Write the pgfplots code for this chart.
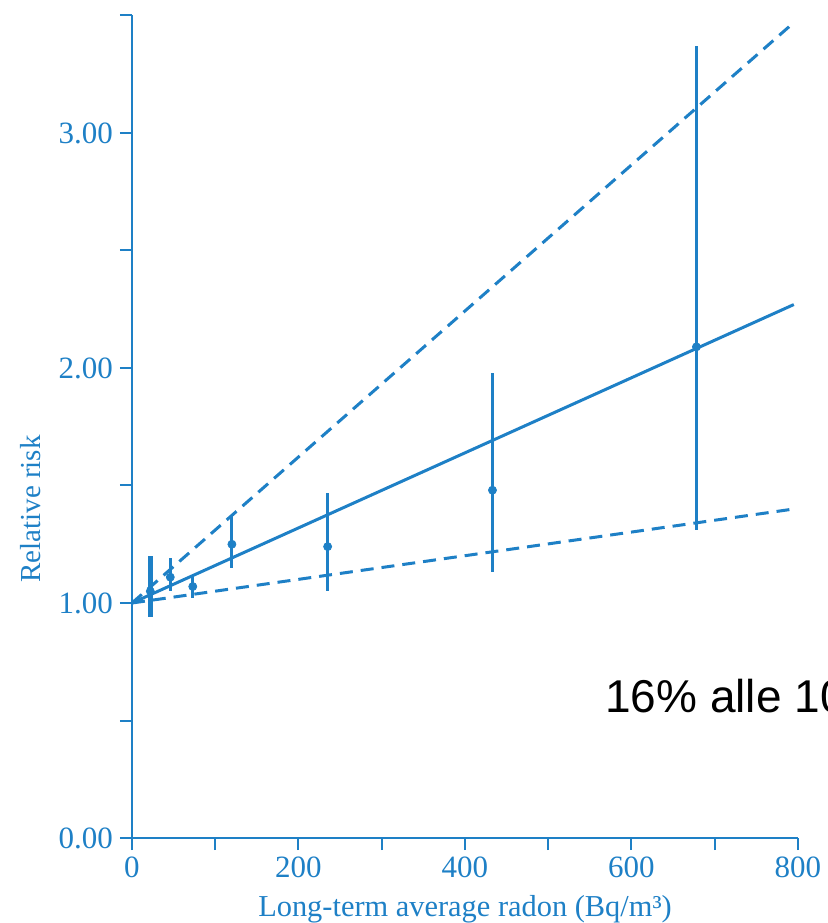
\documentclass[border=0pt]{standalone}
\usepackage{pgfplots}
\pgfplotsset{compat=1.18}
\usepackage{fontspec}
\setmainfont{Liberation Serif}
\newfontfamily\arialfont{Liberation Sans}
\definecolor{rb}{RGB}{30,128,198}
\pgfplotstableread{
x y ep em
46 1.11 0.08 0.06
73 1.07 0.05 0.05
120 1.25 0.12 0.10
235 1.24 0.23 0.19
433 1.48 0.50 0.35
678 2.09 1.28 0.78
}\riskdata
\pgfplotstableread{
x y ep em
22 1.05 0.15 0.11
}\firstdata
\begin{document}
\begin{tikzpicture}
\useasboundingbox (-66pt,-42.5pt) rectangle (348pt,419pt);
\begin{axis}[
  x=0.41625pt, y=117.5pt,
  xmin=0, xmax=800, ymin=0, ymax=3.5,
  axis x line=bottom, axis y line=left,
  axis line style={-, rb, line width=0.9pt},
  tick align=outside,
  major tick length=6pt, minor tick length=6pt,
  every tick/.style={rb, line width=1pt},
  xtick={0,200,...,800}, minor xtick={100,300,500,700},
  ytick={0,1,2,3}, minor ytick={0.5,1.5,2.5,3.5},
  yticklabel style={/pgf/number format/.cd, fixed, fixed zerofill, precision=2},
  /pgf/number format/assume math mode=true,
  ticklabel style={font=\fontsize{15.5}{18}\selectfont, text=rb},
  xlabel={Long-term average radon (Bq/m³)},
  ylabel={Relative risk},
  xlabel style={font=\fontsize{15.2}{18}\selectfont, text=rb, yshift=-2pt},
  ylabel style={font=\fontsize{14.5}{17}\selectfont, text=rb, at={(ticklabel cs:0.4)}, yshift=2pt},
]
\addplot[rb, line width=1.5pt] coordinates {(0,1) (795,2.27)};
\addplot[rb, line width=1.5pt, dash pattern=on 6.5pt off 4pt] coordinates {(0,1) (795,3.47)};
\addplot[rb, line width=1.5pt, dash pattern=on 6.5pt off 4pt] coordinates {(0,1) (795,1.40)};
\addplot[rb, only marks, mark=*, mark size=2pt,
  error bars/.cd, y dir=both, y explicit, error mark=none,
  error bar style={line width=1.5pt, rb}]
  table[x=x, y=y, y error plus=ep, y error minus=em] {\riskdata};
\addplot[rb, only marks, mark=*, mark size=2pt,
  error bars/.cd, y dir=both, y explicit, error mark=none,
  error bar style={line width=2.6pt, rb}]
  table[x=x, y=y, y error plus=ep, y error minus=em] {\firstdata};
\end{axis}
\node[anchor=base west, inner sep=0pt, font=\arialfont\fontsize{23}{27}\selectfont] at (236.5pt,63pt) {16\% alle 100 Bq/m³};
\end{tikzpicture}
\end{document}
